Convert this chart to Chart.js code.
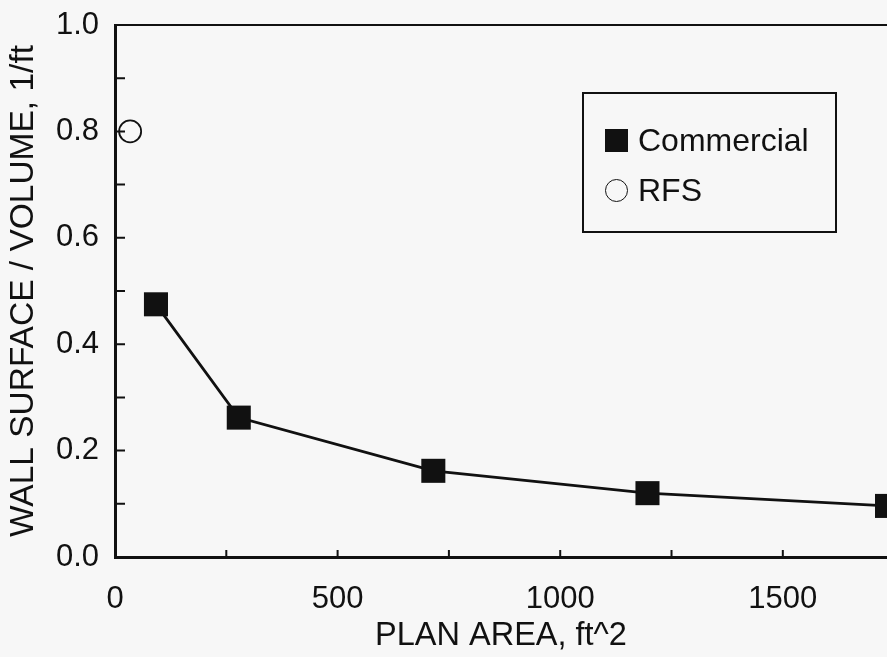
<!DOCTYPE html>
<html lang="en">
<head>
    <meta charset="UTF-8">
    <title>Wall Surface / Volume vs Plan Area</title>
    <script src="https://cdn.jsdelivr.net/npm/chart.js"></script>
    <style>
        body {
            margin: 0;
            background-color: #f7f7f7;
            font-family: "Liberation Sans", Arial, sans-serif;
            overflow: hidden;
        }
        .wrap {
            position: relative;
            width: 887px;
            height: 657px;
        }
        #legend {
            position: absolute;
            left: 582px;
            top: 92px;
            width: 255px;
            height: 141px;
            border: 2px solid #111;
            box-sizing: border-box;
        }
        #legend .item {
            position: absolute;
            left: 21px;
            display: flex;
            align-items: center;
            height: 34px;
            line-height: 34px;
            font-size: 32px;
            color: #111;
        }
        #legend .mark {
            display: inline-block;
            width: 23px;
            height: 23px;
            margin-right: 10px;
            box-sizing: border-box;
        }
        #legend .mark.rect {
            background: #111;
        }
        #legend .mark.circle {
            border: 1.5px solid #111;
            border-radius: 50%;
        }
    </style>
</head>
<body>
<div class="wrap">
    <canvas id="chart" width="887" height="657"></canvas>
    <div id="legend"></div>
</div>

<script>
    // data
    const commercialArea = [92, 278, 715, 1196, 1734];
    const commercialRatio = [0.475, 0.262, 0.162, 0.120, 0.096];
    const rfsArea = [34];
    const rfsRatio = [0.80];

    // tick positions (minor + major) and the ones that get a label
    const xTicks = [0, 250, 500, 750, 1000, 1250, 1500];
    const xMajorTicks = [0, 500, 1000, 1500];
    const yTicks = [0, 0.1, 0.2, 0.3, 0.4, 0.5, 0.6, 0.7, 0.8, 0.9, 1.0];
    const yMajorTicks = [0.0, 0.2, 0.4, 0.6, 0.8, 1.0];

    const ink = '#111';
    const fontFamily = '"Liberation Sans", Arial, sans-serif';

    // inward tick marks + top frame line
    const innerTicks = {
        id: 'innerTicks',
        beforeDatasetsDraw(chart) {
            const {ctx, chartArea, scales} = chart;
            const x = scales.x, y = scales.y;
            ctx.save();
            ctx.strokeStyle = ink;
            ctx.lineWidth = 2;
            ctx.beginPath();
            ctx.moveTo(chartArea.left, chartArea.top);
            ctx.lineTo(chartArea.right, chartArea.top);
            y.ticks.forEach(t => {
                const py = y.getPixelForValue(t.value);
                ctx.moveTo(chartArea.left, py);
                ctx.lineTo(chartArea.left + 10, py);
            });
            x.ticks.forEach(t => {
                if (t.value === 0) return;
                const px = x.getPixelForValue(t.value);
                ctx.moveTo(px, chartArea.bottom);
                ctx.lineTo(px, chartArea.bottom - 7);
            });
            ctx.stroke();
            ctx.restore();
        }
    };

    const ctx = document.getElementById('chart').getContext('2d');
    const chart = new Chart(ctx, {
        type: 'line',
        data: {
            datasets: [{
                label: 'Commercial',
                data: commercialArea.map((a, i) => ({x: a, y: commercialRatio[i]})),
                borderColor: ink,
                borderWidth: 2.8,
                tension: 0,
                pointStyle: 'rect',
                pointRadius: 17,
                pointBackgroundColor: ink,
                pointBorderWidth: 0
            }, {
                label: 'RFS',
                data: rfsArea.map((a, i) => ({x: a, y: rfsRatio[i]})),
                showLine: false,
                pointStyle: 'circle',
                pointRadius: 11,
                pointBorderColor: ink,
                pointBorderWidth: 1.8,
                pointBackgroundColor: 'rgba(0,0,0,0)'
            }]
        },
        options: {
            responsive: false,
            animation: false,
            layout: {
                autoPadding: false,
                padding: {top: 25, right: 0, bottom: 0, left: 0}
            },
            plugins: {
                legend: {display: false},
                tooltip: {enabled: false}
            },
            scales: {
                x: {
                    type: 'linear',
                    min: 0,
                    max: 1734,
                    afterBuildTicks(scale) { scale.ticks = xTicks.map(v => ({value: v})); },
                    afterFit(scale) {
                        scale.height = 100;
                        scale.paddingLeft = 0;
                        scale.paddingRight = 0;
                    },
                    grid: {display: false, drawTicks: false},
                    border: {display: true, color: ink, width: 3},
                    ticks: {
                        autoSkip: false,
                        maxRotation: 0,
                        padding: 24,
                        color: ink,
                        font: {family: fontFamily, size: 31},
                        callback: value => xMajorTicks.includes(value) ? String(value) : ''
                    },
                    title: {
                        display: true,
                        text: 'PLAN AREA, ft^2',
                        color: ink,
                        font: {family: fontFamily, size: 32.5},
                        padding: {top: 0, bottom: 1}
                    }
                },
                y: {
                    type: 'linear',
                    min: 0,
                    max: 1,
                    afterBuildTicks(scale) { scale.ticks = yTicks.map(v => ({value: v})); },
                    afterFit(scale) {
                        scale.width = 115;
                        scale.paddingTop = 0;
                        scale.paddingBottom = 0;
                    },
                    grid: {display: false, drawTicks: false},
                    border: {display: true, color: ink, width: 3},
                    ticks: {
                        autoSkip: false,
                        padding: 16,
                        color: ink,
                        font: {family: fontFamily, size: 31},
                        callback: value => yMajorTicks.some(v => Math.abs(v - value) < 1e-6) ? value.toFixed(1) : ''
                    },
                    title: {
                        display: true,
                        text: 'WALL SURFACE / VOLUME, 1/ft',
                        color: ink,
                        font: {family: fontFamily, size: 33.5},
                        padding: {top: 4, bottom: 0}
                    }
                }
            }
        },
        plugins: [innerTicks]
    });

    // html legend from the dataset labels
    const legendBox = document.getElementById('legend');
    const rowTops = [29, 79];
    chart.data.datasets.forEach((ds, i) => {
        const item = document.createElement('div');
        item.className = 'item';
        item.style.top = rowTops[i] + 'px';
        const mark = document.createElement('span');
        mark.className = 'mark ' + ds.pointStyle;
        const text = document.createElement('span');
        text.textContent = ds.label;
        item.appendChild(mark);
        item.appendChild(text);
        legendBox.appendChild(item);
    });
</script>
</body>
</html>
